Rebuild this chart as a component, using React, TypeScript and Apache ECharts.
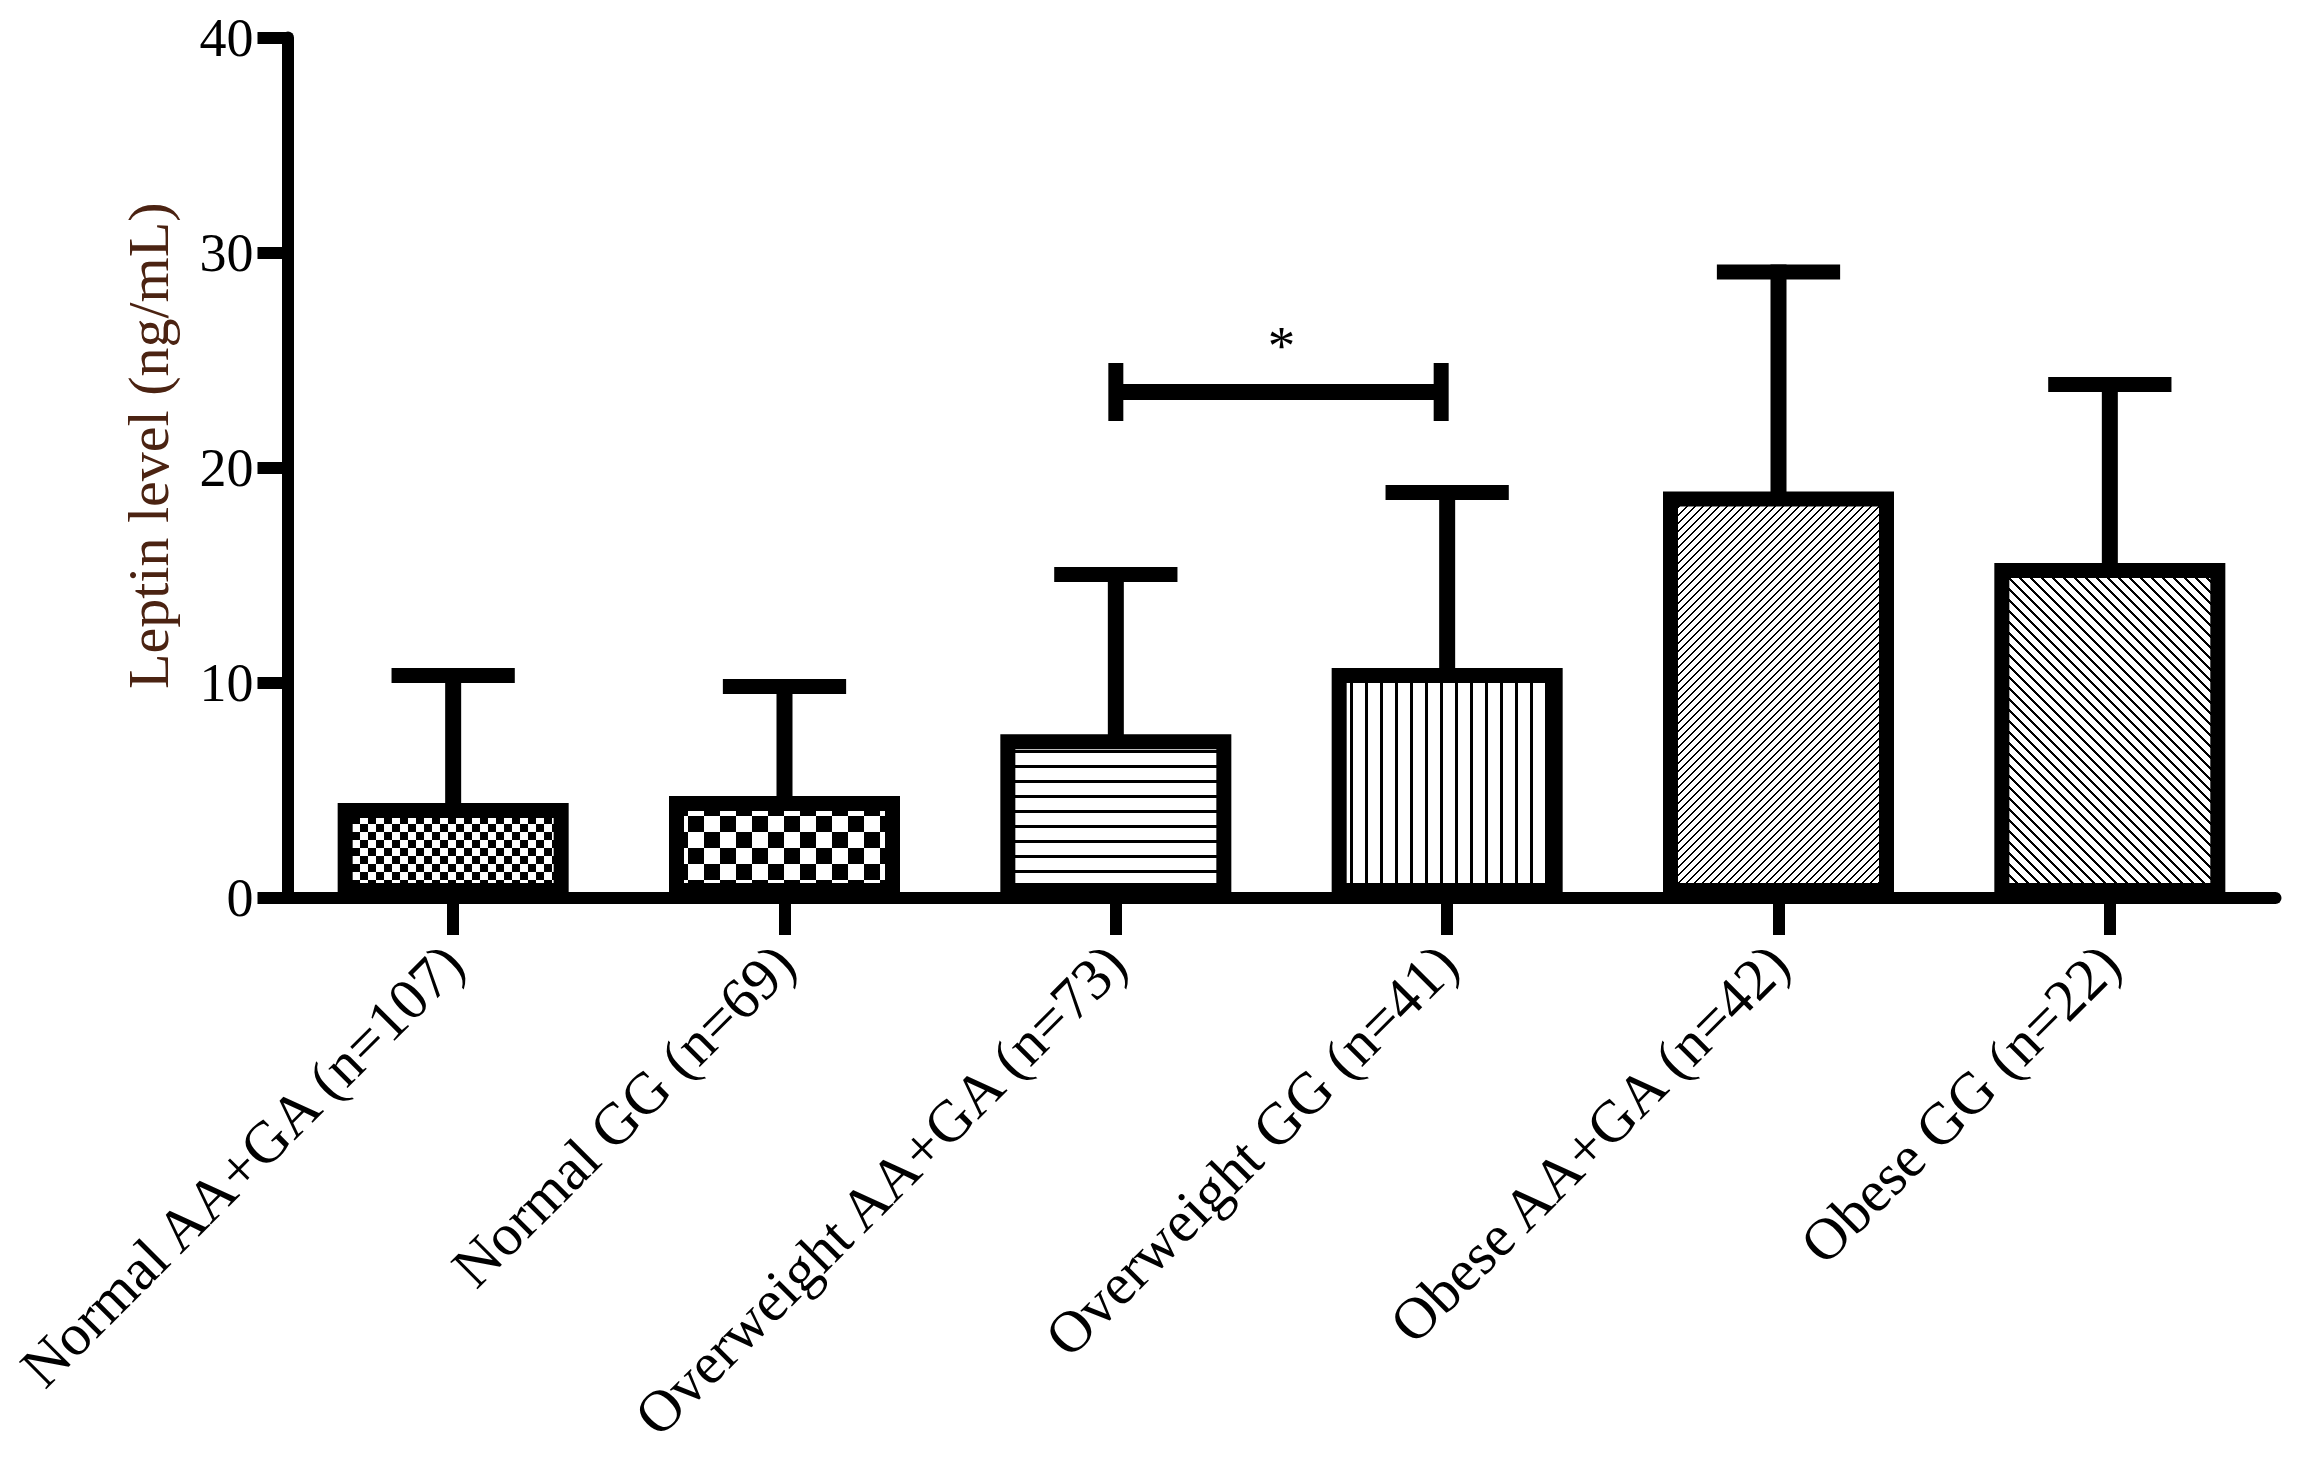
import React, { useEffect, useRef } from 'react';
import * as echarts from 'echarts';

const categories = [
  'Normal AA+GA (n=107)',
  'Normal GG (n=69)',
  'Overweight AA+GA (n=73)',
  'Overweight GG (n=41)',
  'Obese AA+GA (n=42)',
  'Obese GG (n=22)',
];
const meanValues = [4.42, 4.74, 7.61, 10.69, 18.9, 15.57];
const upperErrorValues = [10.34, 9.83, 15.04, 18.85, 29.1, 23.87];
const yTickValues = [0, 10, 20, 30, 40];
const yAxisTitle = 'Leptin level (ng/mL)';
const patternKinds = ['checkFine', 'checkCoarse', 'hLines', 'vLines', 'diagUp', 'diagDown'];
const sigPairs = [[2, 3]];
const sigBracketValues = [23.52];
const sigStarValues = [25.66];
const sigMarks = ['*'];

const FONT = "'Liberation Serif', 'Times New Roman', serif";

function makePattern(kind: string) {
  const c = document.createElement('canvas');
  let w = 16;
  let h = 16;
  if (kind === 'checkFine') { w = 16; h = 16; }
  else if (kind === 'checkCoarse') { w = 32; h = 32; }
  else if (kind === 'hLines') { w = 4; h = 15; }
  else if (kind === 'vLines') { w = 15; h = 4; }
  else if (kind === 'diagUp') { w = 8; h = 8; }
  else if (kind === 'diagDown') { w = 11; h = 11; }
  c.width = w;
  c.height = h;
  const ctx = c.getContext('2d')!;
  ctx.fillStyle = '#ffffff';
  ctx.fillRect(0, 0, w, h);
  ctx.fillStyle = '#000000';
  if (kind === 'checkFine') {
    ctx.fillRect(0, 0, 8, 8);
    ctx.fillRect(8, 8, 8, 8);
  } else if (kind === 'checkCoarse') {
    ctx.fillRect(0, 0, 16, 16);
    ctx.fillRect(16, 16, 16, 16);
  } else if (kind === 'hLines') {
    ctx.fillRect(0, 0, w, 3);
  } else if (kind === 'vLines') {
    ctx.fillRect(0, 0, 3, h);
  } else if (kind === 'diagUp') {
    for (let x = 0; x < w; x++) for (let y = 0; y < h; y++) if ((x + y) % 8 < 2) ctx.fillRect(x, y, 1, 1);
  } else if (kind === 'diagDown') {
    for (let x = 0; x < w; x++) for (let y = 0; y < h; y++) if ((((x - y) % 11) + 11) % 11 < 3) ctx.fillRect(x, y, 1, 1);
  }
  return { image: c.toDataURL(), repeat: 'repeat', imageWidth: w, imageHeight: h };
}

export default function App() {
  const ref = useRef<HTMLDivElement>(null);

  useEffect(() => {
    if (!ref.current) return;
    const chart = echarts.init(ref.current, null, { renderer: 'svg' });
    const patterns = patternKinds.map(makePattern);

    const option: any = {
      animation: false,
      backgroundColor: '#ffffff',
      grid: {
        left: 287.5,
        right: 29.5,
        top: 37.5,
        bottom: 576,
        containLabel: false,
        outerBoundsMode: 'none',
      },
      xAxis: {
        type: 'category',
        data: categories,
        boundaryGap: true,
        axisLine: { show: true, lineStyle: { color: '#000', width: 12 } },
        axisTick: { show: true, alignWithLabel: true, length: 37, lineStyle: { color: '#000', width: 12 } },
        axisLabel: {
          interval: 0,
          rotate: 45,
          margin: 56,
          color: '#000',
          fontSize: 59,
          fontFamily: FONT,
        },
        splitLine: { show: false },
      },
      yAxis: {
        type: 'value',
        min: yTickValues[0],
        max: yTickValues[yTickValues.length - 1],
        interval: yTickValues[1] - yTickValues[0],
        name: yAxisTitle,
        nameLocation: 'middle',
        nameRotate: 90,
        nameGap: 110,
        nameTextStyle: {
          color: '#4b2312',
          fontSize: 58,
          fontFamily: FONT,
          padding: [0, 0, 0, 44],
        },
        axisLine: { show: true, lineStyle: { color: '#000', width: 12 } },
        axisTick: { show: true, length: 30, lineStyle: { color: '#000', width: 12 } },
        axisLabel: { margin: 34, color: '#000', fontSize: 54, fontFamily: FONT },
        splitLine: { show: false },
      },
      series: [
        {
          type: 'bar',
          silent: true,
          barWidth: 231,
          z: 2,
          data: meanValues.map((v, i) => ({
            value: v,
            itemStyle: { color: patterns[i], borderColor: '#000', borderWidth: 15 },
          })),
        },
        {
          type: 'custom',
          silent: true,
          z: 3,
          encode: { x: 0, y: [1, 2] },
          data: meanValues.map((v, i) => [i, v, upperErrorValues[i]]),
          renderItem: (params: any, api: any) => {
            const idx = api.value(0);
            const p0 = api.coord([idx, api.value(1)]);
            const p1 = api.coord([idx, api.value(2)]);
            const half = api.size([1, 0])[0] * 0.186;
            return {
              type: 'group',
              children: [
                {
                  type: 'line',
                  shape: { x1: p0[0], y1: p0[1] + 2, x2: p1[0], y2: p1[1] - 7.5 },
                  style: { stroke: '#000', lineWidth: 16 },
                },
                {
                  type: 'line',
                  shape: { x1: p1[0] - half, y1: p1[1], x2: p1[0] + half, y2: p1[1] },
                  style: { stroke: '#000', lineWidth: 15 },
                },
              ],
            };
          },
        },
        {
          type: 'custom',
          silent: true,
          z: 3,
          encode: { x: [0, 1], y: [2, 3] },
          data: sigPairs.map((p, i) => [p[0], p[1], sigBracketValues[i], sigStarValues[i]]),
          renderItem: (params: any, api: any) => {
            const a = api.coord([api.value(0), api.value(2)]);
            const b = api.coord([api.value(1), api.value(2)]);
            const s = api.coord([api.value(0), api.value(3)]);
            const midX = (a[0] + b[0]) / 2;
            const capH = 29;
            return {
              type: 'group',
              children: [
                {
                  type: 'line',
                  shape: { x1: a[0], y1: a[1], x2: b[0], y2: b[1] },
                  style: { stroke: '#000', lineWidth: 16 },
                },
                {
                  type: 'line',
                  shape: { x1: a[0], y1: a[1] - capH, x2: a[0], y2: a[1] + capH },
                  style: { stroke: '#000', lineWidth: 15 },
                },
                {
                  type: 'line',
                  shape: { x1: b[0] - 6, y1: b[1] - capH, x2: b[0] - 6, y2: b[1] + capH },
                  style: { stroke: '#000', lineWidth: 15 },
                },
                {
                  type: 'text',
                  x: midX,
                  y: s[1],
                  style: {
                    text: sigMarks[params.dataIndex],
                    fill: '#000',
                    fontSize: 55,
                    fontFamily: FONT,
                    align: 'center',
                    verticalAlign: 'middle',
                  },
                },
              ],
            };
          },
        },
      ],
    };

    chart.setOption(option);
    return () => chart.dispose();
  }, []);

  return (
    <div
      ref={ref}
      style={{ position: 'fixed', left: 0, top: 0, width: 2305, height: 1474, background: '#fff' }}
    />
  );
}
